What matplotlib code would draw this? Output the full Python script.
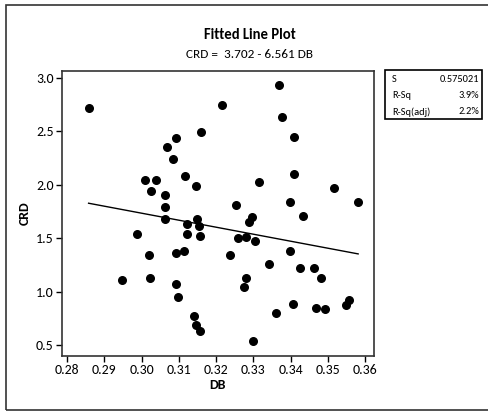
import matplotlib
matplotlib.use("Agg")
import matplotlib.pyplot as plt
from matplotlib.patches import Rectangle
import numpy as np

plt.rcParams["font.family"] = ["Carlito", "DejaVu Sans"]

db = [0.2858, 0.2947, 0.2987, 0.3008, 0.3020, 0.3022, 0.3026, 0.3039, 0.3063, 0.3064,
      0.3063, 0.3067, 0.3085, 0.3092, 0.3092, 0.3092, 0.3097, 0.3113, 0.3117, 0.3122,
      0.3122, 0.3140, 0.3145, 0.3147, 0.3149, 0.3153, 0.3156, 0.3158, 0.3160, 0.3216,
      0.3237, 0.3254, 0.3258, 0.3274, 0.3279, 0.3279, 0.3289, 0.3296, 0.3298, 0.3305,
      0.3316, 0.3342, 0.3361, 0.3370, 0.3376, 0.3399, 0.3399, 0.3405, 0.3408, 0.3409,
      0.3424, 0.3433, 0.3463, 0.3468, 0.3482, 0.3491, 0.3517, 0.3548, 0.3556, 0.3581]
crd = [2.72, 1.11, 1.54, 2.04, 1.34, 1.13, 1.94, 2.04, 1.90, 1.79,
       1.68, 2.35, 2.24, 2.44, 1.36, 1.07, 0.95, 1.38, 2.08, 1.63,
       1.54, 0.77, 0.69, 1.99, 1.68, 1.61, 0.63, 1.52, 2.49, 2.75,
       1.34, 1.81, 1.50, 1.04, 1.13, 1.51, 1.65, 1.70, 0.54, 1.47,
       2.03, 1.26, 0.80, 2.93, 2.63, 1.38, 1.84, 0.88, 2.10, 2.45,
       1.22, 1.71, 1.22, 0.85, 1.13, 0.84, 1.97, 0.87, 0.92, 1.84]

intercept = 3.702
slope = -6.561

x_ticks = [0.28, 0.29, 0.30, 0.31, 0.32, 0.33, 0.34, 0.35, 0.36]
y_ticks = [0.5, 1.0, 1.5, 2.0, 2.5, 3.0]

stat_names = ["S", "R-Sq", "R-Sq(adj)"]
stat_values = ["0.575021", "3.9%", "2.2%"]

fig = plt.figure(figsize=(4.88, 4.12), dpi=100)
ax = fig.add_axes([0.127, 0.136, 0.639, 0.692])

ax.scatter(db, crd, s=30, color="black", zorder=3)
xs = np.array([min(db), max(db)])
ax.plot(xs, intercept + slope * xs, color="black", linewidth=1.0)

ax.set_xlim(0.27866, 0.3623)
ax.set_ylim(0.397, 3.066)
ax.set_xticks(x_ticks)
ax.set_xticklabels([f"{t:.2f}" for t in x_ticks])
ax.set_yticks(y_ticks)
ax.set_yticklabels([f"{t:.1f}" for t in y_ticks])
ax.tick_params(direction="out", length=4, width=1, labelsize=10, pad=2)
for sp in ax.spines.values():
    sp.set_linewidth(1.2)
    sp.set_color("#333333")

ax.set_xlabel("DB", fontsize=10, fontweight="bold", labelpad=2)
ax.set_ylabel("CRD", fontsize=10, fontweight="bold", labelpad=4)

fig.text(250 / 488, 1 - 35 / 412, "Fitted Line Plot", ha="center", va="center",
         fontsize=10.5, fontweight="bold")
fig.text(250 / 488, 1 - 54 / 412, f"CRD =  {intercept:.3f} - {abs(slope):.3f} DB",
         ha="center", va="center", fontsize=9.5)

# stats box
fig.patches.append(Rectangle((385 / 488, 1 - 119 / 412), 97 / 488, 49 / 412,
                             transform=fig.transFigure, fill=False,
                             edgecolor="black", linewidth=1.2))
for i, (name, val) in enumerate(zip(stat_names, stat_values)):
    yy = 1 - (80 + 16 * i) / 412
    fig.text(392 / 488, yy, name, ha="left", va="center", fontsize=7.5)
    fig.text(479 / 488, yy, val, ha="right", va="center", fontsize=7.5)

# outer frame
fig.patches.append(Rectangle((6 / 488, 1 - 410 / 412), 490 / 488, 405 / 412,
                             transform=fig.transFigure, fill=False,
                             edgecolor="#333333", linewidth=1.2))

fig.savefig("out.png", dpi=100)
